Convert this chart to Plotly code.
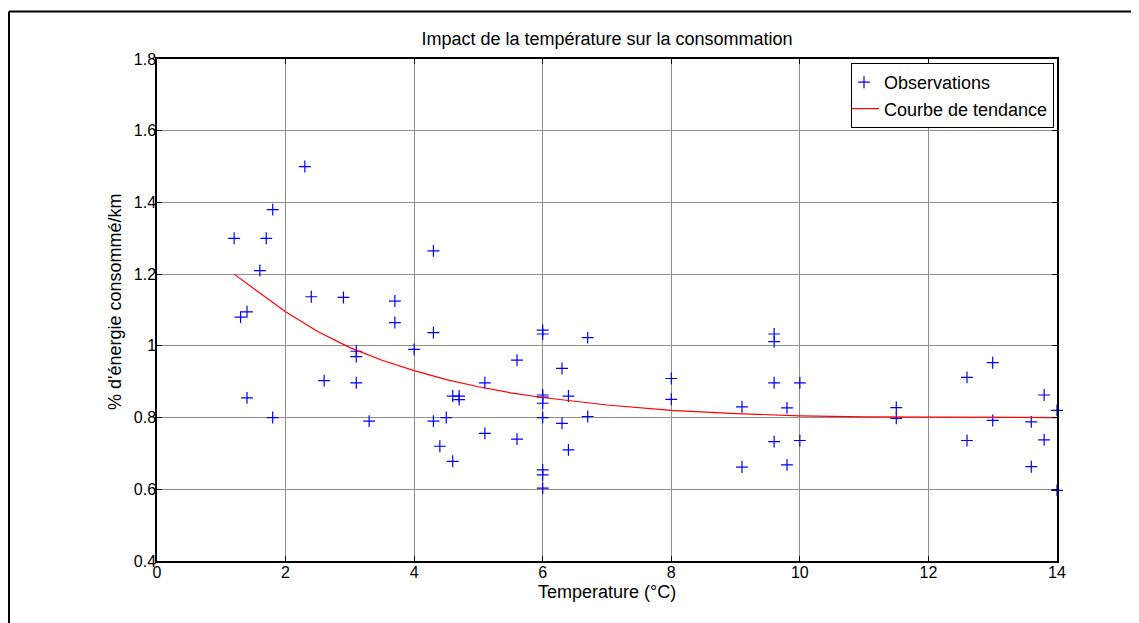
import plotly.graph_objects as go

# Observations (temperature °C, % energy consumed / km)
obs_temp = [1.2, 1.3, 1.4, 1.4, 1.6, 1.7, 1.8, 1.8, 2.3, 2.4, 2.6, 2.9,
            3.1, 3.1, 3.1, 3.3, 3.7, 3.7, 4.0, 4.3, 4.3, 4.3, 4.4, 4.5,
            4.6, 4.6, 4.7, 4.7, 5.1, 5.1, 5.6, 5.6,
            6.0, 6.0, 6.0, 6.0, 6.0, 6.0, 6.0, 6.0, 6.0,
            6.3, 6.3, 6.4, 6.4, 6.7, 6.7, 8.0, 8.0, 9.1, 9.1,
            9.6, 9.6, 9.6, 9.6, 9.8, 9.8, 10.0, 10.0, 11.5, 11.5,
            12.6, 12.6, 13.0, 13.0, 13.6, 13.6, 13.8, 13.8, 14.0, 14.0]
obs_energy = [1.30, 1.08, 1.095, 0.855, 1.21, 1.30, 1.38, 0.80, 1.50, 1.137, 0.903, 1.135,
              0.985, 0.97, 0.897, 0.79, 1.125, 1.065, 0.99, 1.265, 1.037, 0.79, 0.72, 0.80,
              0.86, 0.678, 0.86, 0.85, 0.897, 0.756, 0.96, 0.74,
              1.044, 1.033, 0.863, 0.857, 0.84, 0.80, 0.654, 0.64, 0.603,
              0.937, 0.784, 0.86, 0.71, 1.023, 0.803, 0.909, 0.851, 0.83, 0.662,
              1.033, 1.012, 0.897, 0.733, 0.827, 0.668, 0.897, 0.736, 0.828, 0.798,
              0.912, 0.736, 0.953, 0.792, 0.788, 0.663, 0.863, 0.738, 0.82, 0.597]

# Trend curve
trend_temp = [1.2, 1.5, 2.0, 2.5, 3.0, 3.5, 4.0, 4.5, 5.0, 5.5, 6.0, 7.0, 8.0,
              9.0, 10.0, 11.0, 12.0, 13.0, 14.0]
trend_energy = [1.20, 1.16, 1.095, 1.04, 0.995, 0.96, 0.931, 0.906, 0.886, 0.869, 0.856,
                0.835, 0.82, 0.811, 0.805, 0.802, 0.801, 0.800, 0.800]

x_ticks = [0, 2, 4, 6, 8, 10, 12, 14]
y_ticks = [0.4, 0.6, 0.8, 1.0, 1.2, 1.4, 1.6, 1.8]
y_tick_labels = ["0.4", "0.6", "0.8", "1", "1.2", "1.4", "1.6", "1.8"]

FONT = "Liberation Sans, Arial, sans-serif"

# page body has an 8px margin -> figure is offset by (8, 8) in the window
W, H = 1131, 615
L, T, PW, PH = 149, 51, 900, 502

fig = go.Figure()
fig.add_trace(go.Scatter(
    x=obs_temp, y=obs_energy, mode="markers", name="Observations",
    marker=dict(symbol="cross-thin-open", size=8.5, color="#0000ff",
                line=dict(color="#0000ff", width=1.2)),
    cliponaxis=False,
))
fig.add_trace(go.Scatter(
    x=trend_temp, y=trend_energy, mode="lines", name="Courbe de tendance",
    line=dict(color="#ff0000", width=1.2),
))

axis_common = dict(
    showline=True, linecolor="black", linewidth=1.5, mirror="allticks",
    ticks="inside", ticklen=5, tickcolor="black", tickwidth=1,
    showgrid=True, gridcolor="#909090", gridwidth=1,
    zeroline=False, tickfont=dict(family=FONT, size=16, color="black"),
)

fig.update_xaxes(range=[0, 14], tickvals=x_ticks, ticktext=[str(v) for v in x_ticks],
                 ticklabelstandoff=-4, **axis_common)
fig.update_yaxes(range=[0.4, 1.8], tickvals=y_ticks, ticktext=y_tick_labels,
                 ticklabelstandoff=-4, **axis_common)


def px_x(fx):
    return (fx - L) / PW


def px_y(fy):
    return (T + PH - fy) / PH


fig.update_layout(
    width=W, height=H,
    margin=dict(l=L, r=W - L - PW, t=T, b=H - T - PH, autoexpand=False),
    paper_bgcolor="white", plot_bgcolor="white",
    font=dict(family=FONT, size=18, color="black"),
    title=dict(text="Impact de la température sur la consommation",
               x=0.5, xref="paper", xanchor="center",
               y=1 - 31 / H, yref="container", yanchor="middle",
               font=dict(family=FONT, size=18, color="black")),
    showlegend=True,
    legend=dict(x=px_x(1046), y=px_y(55), xanchor="right", yanchor="top",
                bgcolor="white", bordercolor="black", borderwidth=1,
                font=dict(family=FONT, size=18, color="black"),
                itemwidth=30, tracegroupgap=0, indentation=-8),
    annotations=[
        dict(text="Temperature (°C)", xref="paper", yref="paper",
             x=0.5, y=px_y(584), xanchor="center", yanchor="middle",
             showarrow=False, font=dict(family=FONT, size=18, color="black")),
        dict(text="% d'énergie consommé/km", xref="paper", yref="paper",
             x=px_x(107), y=px_y(294), xanchor="center", yanchor="middle",
             textangle=-90, showarrow=False,
             font=dict(family=FONT, size=18, color="black")),
    ],
    shapes=[
        # outer figure frame (only its top and left edges fall inside the window)
        dict(type="line", xref="paper", yref="paper",
             x0=px_x(1), x1=px_x(W + 40), y0=px_y(3.5), y1=px_y(3.5),
             line=dict(color="black", width=2), layer="below"),
        dict(type="line", xref="paper", yref="paper",
             x0=px_x(1), x1=px_x(1), y0=px_y(3.5), y1=px_y(H + 40),
             line=dict(color="black", width=2), layer="below"),
    ],
)

fig.write_html("out.html")
